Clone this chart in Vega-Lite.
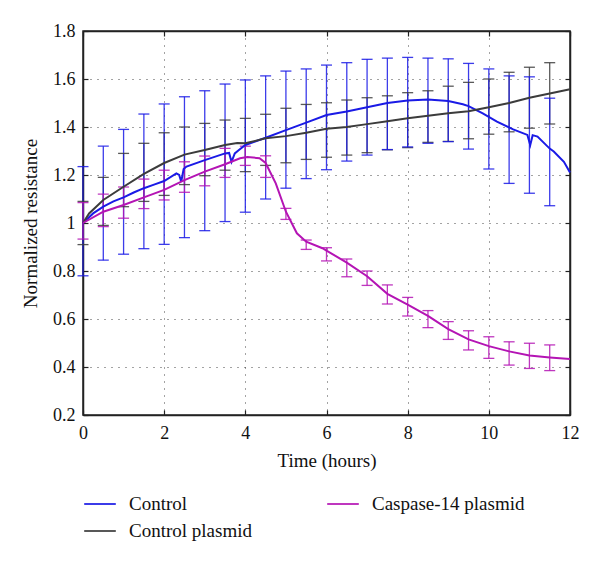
{
  "$schema": "https://vega.github.io/schema/vega-lite/v6.json",
  "width": 487,
  "height": 384,
  "autosize": "none",
  "padding": {"left": 83, "top": 31, "right": 30, "bottom": 146},
  "config": {
    "font": "Liberation Serif",
    "view": {"stroke": "#222", "strokeWidth": 1.5},
    "axis": {
      "labelFont": "Liberation Serif", "labelFontSize": 18, "labelColor": "#111",
      "titleFont": "Liberation Serif", "titleFontSize": 19, "titleFontWeight": "normal", "titleColor": "#111",
      "domainColor": "#222", "domainWidth": 1.5,
      "tickColor": "#222", "tickSize": -5, "tickWidth": 1.2,
      "gridColor": "#333", "gridDash": [1, 6], "gridWidth": 1, "gridOpacity": 0.9
    },
    "legend": {"labelFont": "Liberation Serif", "labelFontSize": 19, "labelColor": "#111"}
  },
  "datasets": {
    "lines": [
      {"series": "Control", "t": 0, "v": 1.0}, {"series": "Control", "t": 0.25, "v": 1.04}, {"series": "Control", "t": 0.5, "v": 1.068}, {"series": "Control", "t": 0.75, "v": 1.09}, {"series": "Control", "t": 1, "v": 1.107}, {"series": "Control", "t": 1.25, "v": 1.127}, {"series": "Control", "t": 1.5, "v": 1.145}, {"series": "Control", "t": 1.75, "v": 1.16}, {"series": "Control", "t": 2, "v": 1.175}, {"series": "Control", "t": 2.3, "v": 1.207}, {"series": "Control", "t": 2.37, "v": 1.2}, {"series": "Control", "t": 2.42, "v": 1.172}, {"series": "Control", "t": 2.48, "v": 1.225}, {"series": "Control", "t": 2.55, "v": 1.235}, {"series": "Control", "t": 3, "v": 1.262}, {"series": "Control", "t": 3.5, "v": 1.29}, {"series": "Control", "t": 3.6, "v": 1.292}, {"series": "Control", "t": 3.66, "v": 1.255}, {"series": "Control", "t": 3.74, "v": 1.29}, {"series": "Control", "t": 3.85, "v": 1.305}, {"series": "Control", "t": 4, "v": 1.325}, {"series": "Control", "t": 4.5, "v": 1.355}, {"series": "Control", "t": 5, "v": 1.387}, {"series": "Control", "t": 5.5, "v": 1.418}, {"series": "Control", "t": 6, "v": 1.45}, {"series": "Control", "t": 6.5, "v": 1.465}, {"series": "Control", "t": 7, "v": 1.482}, {"series": "Control", "t": 7.5, "v": 1.5}, {"series": "Control", "t": 8, "v": 1.51}, {"series": "Control", "t": 8.5, "v": 1.515}, {"series": "Control", "t": 9, "v": 1.508}, {"series": "Control", "t": 9.36, "v": 1.495}, {"series": "Control", "t": 9.5, "v": 1.487}, {"series": "Control", "t": 9.85, "v": 1.457}, {"series": "Control", "t": 10.2, "v": 1.422}, {"series": "Control", "t": 10.6, "v": 1.39}, {"series": "Control", "t": 10.95, "v": 1.367}, {"series": "Control", "t": 11.02, "v": 1.325}, {"series": "Control", "t": 11.08, "v": 1.366}, {"series": "Control", "t": 11.2, "v": 1.36}, {"series": "Control", "t": 11.5, "v": 1.31}, {"series": "Control", "t": 11.6, "v": 1.298}, {"series": "Control", "t": 11.85, "v": 1.255}, {"series": "Control", "t": 12, "v": 1.21},
      {"series": "Control plasmid", "t": 0, "v": 1.0}, {"series": "Control plasmid", "t": 0.15, "v": 1.04}, {"series": "Control plasmid", "t": 0.5, "v": 1.096}, {"series": "Control plasmid", "t": 1, "v": 1.151}, {"series": "Control plasmid", "t": 1.5, "v": 1.205}, {"series": "Control plasmid", "t": 2, "v": 1.25}, {"series": "Control plasmid", "t": 2.5, "v": 1.285}, {"series": "Control plasmid", "t": 3, "v": 1.304}, {"series": "Control plasmid", "t": 3.5, "v": 1.325}, {"series": "Control plasmid", "t": 3.8, "v": 1.333}, {"series": "Control plasmid", "t": 4, "v": 1.332}, {"series": "Control plasmid", "t": 4.5, "v": 1.353}, {"series": "Control plasmid", "t": 5, "v": 1.362}, {"series": "Control plasmid", "t": 5.5, "v": 1.376}, {"series": "Control plasmid", "t": 6, "v": 1.393}, {"series": "Control plasmid", "t": 6.5, "v": 1.4}, {"series": "Control plasmid", "t": 7, "v": 1.412}, {"series": "Control plasmid", "t": 7.5, "v": 1.424}, {"series": "Control plasmid", "t": 8, "v": 1.436}, {"series": "Control plasmid", "t": 8.5, "v": 1.447}, {"series": "Control plasmid", "t": 9, "v": 1.457}, {"series": "Control plasmid", "t": 9.5, "v": 1.466}, {"series": "Control plasmid", "t": 10, "v": 1.482}, {"series": "Control plasmid", "t": 10.5, "v": 1.5}, {"series": "Control plasmid", "t": 11, "v": 1.522}, {"series": "Control plasmid", "t": 11.5, "v": 1.54}, {"series": "Control plasmid", "t": 12, "v": 1.557},
      {"series": "Caspase-14 plasmid", "t": 0, "v": 1.0}, {"series": "Caspase-14 plasmid", "t": 0.5, "v": 1.047}, {"series": "Caspase-14 plasmid", "t": 1, "v": 1.075}, {"series": "Caspase-14 plasmid", "t": 1.5, "v": 1.107}, {"series": "Caspase-14 plasmid", "t": 2, "v": 1.138}, {"series": "Caspase-14 plasmid", "t": 2.5, "v": 1.179}, {"series": "Caspase-14 plasmid", "t": 3, "v": 1.214}, {"series": "Caspase-14 plasmid", "t": 3.5, "v": 1.245}, {"series": "Caspase-14 plasmid", "t": 3.87, "v": 1.27}, {"series": "Caspase-14 plasmid", "t": 4.05, "v": 1.275}, {"series": "Caspase-14 plasmid", "t": 4.35, "v": 1.27}, {"series": "Caspase-14 plasmid", "t": 4.5, "v": 1.25}, {"series": "Caspase-14 plasmid", "t": 4.75, "v": 1.165}, {"series": "Caspase-14 plasmid", "t": 5, "v": 1.047}, {"series": "Caspase-14 plasmid", "t": 5.27, "v": 0.957}, {"series": "Caspase-14 plasmid", "t": 5.5, "v": 0.922}, {"series": "Caspase-14 plasmid", "t": 5.9, "v": 0.895}, {"series": "Caspase-14 plasmid", "t": 6, "v": 0.885}, {"series": "Caspase-14 plasmid", "t": 6.5, "v": 0.835}, {"series": "Caspase-14 plasmid", "t": 7, "v": 0.778}, {"series": "Caspase-14 plasmid", "t": 7.5, "v": 0.705}, {"series": "Caspase-14 plasmid", "t": 8, "v": 0.66}, {"series": "Caspase-14 plasmid", "t": 8.5, "v": 0.613}, {"series": "Caspase-14 plasmid", "t": 9, "v": 0.558}, {"series": "Caspase-14 plasmid", "t": 9.5, "v": 0.515}, {"series": "Caspase-14 plasmid", "t": 10, "v": 0.487}, {"series": "Caspase-14 plasmid", "t": 10.5, "v": 0.465}, {"series": "Caspase-14 plasmid", "t": 11, "v": 0.448}, {"series": "Caspase-14 plasmid", "t": 11.5, "v": 0.44}, {"series": "Caspase-14 plasmid", "t": 12, "v": 0.433}
    ],
    "bars": [
      {"series": "Control plasmid", "t": 0, "lo": 0.91, "hi": 1.09}, {"series": "Control plasmid", "t": 0.5, "lo": 0.99, "hi": 1.19}, {"series": "Control plasmid", "t": 1, "lo": 1.068, "hi": 1.29}, {"series": "Control plasmid", "t": 1.5, "lo": 1.09, "hi": 1.332}, {"series": "Control plasmid", "t": 2, "lo": 1.115, "hi": 1.376}, {"series": "Control plasmid", "t": 2.5, "lo": 1.16, "hi": 1.4}, {"series": "Control plasmid", "t": 3, "lo": 1.197, "hi": 1.415}, {"series": "Control plasmid", "t": 3.5, "lo": 1.22, "hi": 1.429}, {"series": "Control plasmid", "t": 4, "lo": 1.214, "hi": 1.436}, {"series": "Control plasmid", "t": 4.5, "lo": 1.24, "hi": 1.453}, {"series": "Control plasmid", "t": 5, "lo": 1.251, "hi": 1.478}, {"series": "Control plasmid", "t": 5.5, "lo": 1.265, "hi": 1.494}, {"series": "Control plasmid", "t": 6, "lo": 1.274, "hi": 1.501}, {"series": "Control plasmid", "t": 6.5, "lo": 1.283, "hi": 1.5125}, {"series": "Control plasmid", "t": 7, "lo": 1.293, "hi": 1.522}, {"series": "Control plasmid", "t": 7.5, "lo": 1.305, "hi": 1.53}, {"series": "Control plasmid", "t": 8, "lo": 1.314, "hi": 1.543}, {"series": "Control plasmid", "t": 8.5, "lo": 1.336, "hi": 1.551}, {"series": "Control plasmid", "t": 9, "lo": 1.34, "hi": 1.57}, {"series": "Control plasmid", "t": 9.5, "lo": 1.351, "hi": 1.586}, {"series": "Control plasmid", "t": 10, "lo": 1.37, "hi": 1.6}, {"series": "Control plasmid", "t": 10.5, "lo": 1.38, "hi": 1.628}, {"series": "Control plasmid", "t": 11, "lo": 1.395, "hi": 1.649}, {"series": "Control plasmid", "t": 11.5, "lo": 1.4125, "hi": 1.668},
      {"series": "Control", "t": 0, "lo": 0.78, "hi": 1.235}, {"series": "Control", "t": 0.5, "lo": 0.845, "hi": 1.32}, {"series": "Control", "t": 1, "lo": 0.87, "hi": 1.39}, {"series": "Control", "t": 1.5, "lo": 0.893, "hi": 1.454}, {"series": "Control", "t": 2, "lo": 0.911, "hi": 1.496}, {"series": "Control", "t": 2.5, "lo": 0.939, "hi": 1.526}, {"series": "Control", "t": 3, "lo": 0.968, "hi": 1.551}, {"series": "Control", "t": 3.5, "lo": 1.006, "hi": 1.579}, {"series": "Control", "t": 4, "lo": 1.045, "hi": 1.596}, {"series": "Control", "t": 4.5, "lo": 1.1, "hi": 1.613}, {"series": "Control", "t": 5, "lo": 1.145, "hi": 1.633}, {"series": "Control", "t": 5.5, "lo": 1.185, "hi": 1.642}, {"series": "Control", "t": 6, "lo": 1.222, "hi": 1.658}, {"series": "Control", "t": 6.5, "lo": 1.258, "hi": 1.668}, {"series": "Control", "t": 7, "lo": 1.283, "hi": 1.682}, {"series": "Control", "t": 7.5, "lo": 1.306, "hi": 1.687}, {"series": "Control", "t": 8, "lo": 1.317, "hi": 1.69}, {"series": "Control", "t": 8.5, "lo": 1.332, "hi": 1.687}, {"series": "Control", "t": 9, "lo": 1.339, "hi": 1.684}, {"series": "Control", "t": 9.5, "lo": 1.308, "hi": 1.665}, {"series": "Control", "t": 10, "lo": 1.225, "hi": 1.642}, {"series": "Control", "t": 10.5, "lo": 1.165, "hi": 1.613}, {"series": "Control", "t": 11, "lo": 1.124, "hi": 1.609}, {"series": "Control", "t": 11.5, "lo": 1.072, "hi": 1.52},
      {"series": "Caspase-14 plasmid", "t": 0, "lo": 0.933, "hi": 1.085}, {"series": "Caspase-14 plasmid", "t": 0.5, "lo": 0.985, "hi": 1.12}, {"series": "Caspase-14 plasmid", "t": 1, "lo": 1.02, "hi": 1.15}, {"series": "Caspase-14 plasmid", "t": 1.5, "lo": 1.06, "hi": 1.183}, {"series": "Caspase-14 plasmid", "t": 2, "lo": 1.096, "hi": 1.22}, {"series": "Caspase-14 plasmid", "t": 2.5, "lo": 1.128, "hi": 1.255}, {"series": "Caspase-14 plasmid", "t": 3, "lo": 1.155, "hi": 1.279}, {"series": "Caspase-14 plasmid", "t": 3.5, "lo": 1.19, "hi": 1.311}, {"series": "Caspase-14 plasmid", "t": 4, "lo": 1.24, "hi": 1.32}, {"series": "Caspase-14 plasmid", "t": 4.5, "lo": 1.19, "hi": 1.28}, {"series": "Caspase-14 plasmid", "t": 5, "lo": 1.015, "hi": 1.061}, {"series": "Caspase-14 plasmid", "t": 5.5, "lo": 0.89, "hi": 0.929}, {"series": "Caspase-14 plasmid", "t": 6, "lo": 0.842, "hi": 0.897}, {"series": "Caspase-14 plasmid", "t": 6.5, "lo": 0.776, "hi": 0.85}, {"series": "Caspase-14 plasmid", "t": 7, "lo": 0.74, "hi": 0.8}, {"series": "Caspase-14 plasmid", "t": 7.5, "lo": 0.6625, "hi": 0.742}, {"series": "Caspase-14 plasmid", "t": 8, "lo": 0.6125, "hi": 0.69}, {"series": "Caspase-14 plasmid", "t": 8.5, "lo": 0.564, "hi": 0.635}, {"series": "Caspase-14 plasmid", "t": 9, "lo": 0.515, "hi": 0.589}, {"series": "Caspase-14 plasmid", "t": 9.5, "lo": 0.471, "hi": 0.551}, {"series": "Caspase-14 plasmid", "t": 10, "lo": 0.436, "hi": 0.526}, {"series": "Caspase-14 plasmid", "t": 10.5, "lo": 0.408, "hi": 0.505}, {"series": "Caspase-14 plasmid", "t": 11, "lo": 0.394, "hi": 0.499}, {"series": "Caspase-14 plasmid", "t": 11.5, "lo": 0.385, "hi": 0.492}
    ]
  },
  "resolve": {"axis": {"x": "independent", "y": "independent"}},
  "layer": [
    {
      "data": {"name": "lines"},
      "mark": {"type": "line", "opacity": 0},
      "encoding": {
        "x": {"field": "t", "type": "quantitative", "scale": {"domain": [0, 12], "nice": false, "zero": false},
          "axis": {"orient": "top", "title": null, "labels": false, "grid": false, "values": [0, 2, 4, 6, 8, 10, 12]}},
        "y": {"field": "v", "type": "quantitative", "scale": {"domain": [0.2, 1.8], "nice": false, "zero": false},
          "axis": {"orient": "right", "title": null, "labels": false, "grid": false, "values": [0.2, 0.4, 0.6, 0.8, 1, 1.2, 1.4, 1.6, 1.8]}}
      }
    },
    {
      "layer": [
        {
          "data": {"name": "bars"},
          "mark": {"type": "rule", "strokeWidth": 1.3, "opacity": 0.85},
          "encoding": {
            "x": {"field": "t", "type": "quantitative"},
            "y": {"field": "lo", "type": "quantitative"},
            "y2": {"field": "hi"},
            "color": {"field": "series", "type": "nominal"}
          }
        },
        {
          "data": {"name": "bars"},
          "mark": {"type": "tick", "orient": "horizontal", "size": 11, "thickness": 1.3, "opacity": 0.85},
          "encoding": {
            "x": {"field": "t", "type": "quantitative"},
            "y": {"field": "lo", "type": "quantitative"},
            "color": {"field": "series", "type": "nominal"}
          }
        },
        {
          "data": {"name": "bars"},
          "mark": {"type": "tick", "orient": "horizontal", "size": 11, "thickness": 1.3, "opacity": 0.85},
          "encoding": {
            "x": {"field": "t", "type": "quantitative"},
            "y": {"field": "hi", "type": "quantitative"},
            "color": {"field": "series", "type": "nominal"}
          }
        },
        {
          "data": {"name": "lines"},
          "mark": {"type": "line", "strokeWidth": 2, "interpolate": "linear"},
          "encoding": {
            "x": {
              "field": "t", "type": "quantitative",
              "scale": {"domain": [0, 12], "nice": false, "zero": false},
              "axis": {"title": "Time (hours)", "values": [0, 2, 4, 6, 8, 10, 12], "labelPadding": 14, "titlePadding": 9, "grid": true, "labelFlush": false}
            },
            "y": {
              "field": "v", "type": "quantitative",
              "scale": {"domain": [0.2, 1.8], "nice": false, "zero": false},
              "axis": {"title": "Normalized resistance", "values": [0.2, 0.4, 0.6, 0.8, 1, 1.2, 1.4, 1.6, 1.8], "format": "~g", "labelPadding": 13, "titlePadding": 12, "grid": true, "labelFlush": false}
            },
            "color": {
              "field": "series", "type": "nominal",
              "scale": {"domain": ["Control", "Caspase-14 plasmid", "Control plasmid"], "range": ["#1a1ae6", "#b414b4", "#3c3c3c"]},
              "legend": {"title": null, "orient": "none", "legendX": 0, "legendY": 456, "columns": 2, "direction": "horizontal", "symbolType": "stroke", "symbolSize": 1000, "symbolStrokeWidth": 2, "columnPadding": 71, "rowPadding": -4, "labelOffset": 12}
            }
          }
        }
      ]
    }
  ]
}
